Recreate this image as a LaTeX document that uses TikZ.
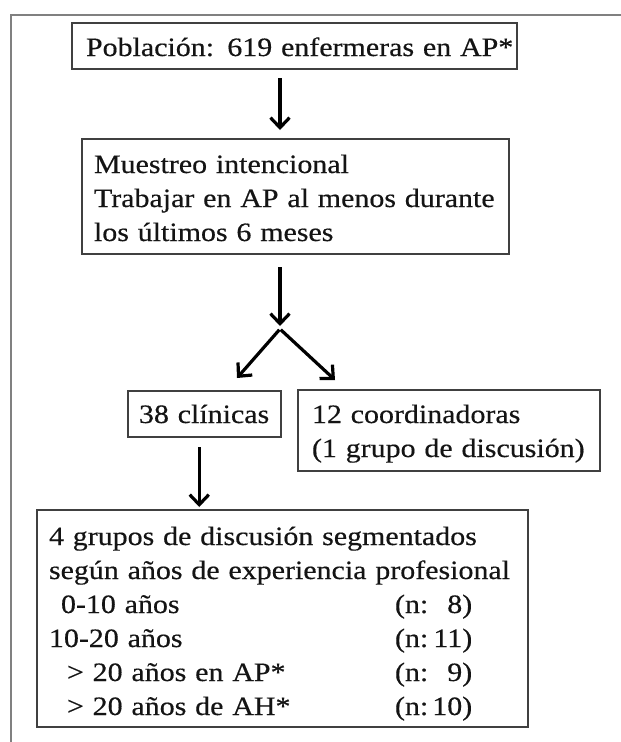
\documentclass[tikz,border=0pt]{standalone}
\usepackage{fontspec}
\setmainfont[FakeStretch=1.13,FakeBold=0.45,WordSpace=0.75]{Liberation Serif}
\usetikzlibrary{arrows.meta}
\newcommand{\nnum}[1]{(n:\makebox[34pt][r]{#1})}
\begin{document}
\begin{tikzpicture}[x=1pt,y=-1pt,
  box/.style={draw=black!75, line width=2pt, rectangle, anchor=north west,
    outer sep=0pt, inner ysep=0pt, align=left,
    font=\fontsize{26.5}{34}\selectfont, text=black!92},
  arr/.style={draw=black, line width=3.2pt, -{Straight Barb[length=10pt,width=19pt]}},
]
\useasboundingbox (0,0) rectangle (621,742);
\draw[black!50, line width=2pt] (10.5,742) -- (10.5,15) -- (621,15);

\node[box, inner xsep=14pt, text width=417pt, text height=33pt, text depth=13pt]
  (b1) at (72,23) {\mbox{Población: 619 enfermeras en AP*}};
\node[box, inner xsep=12pt, text width=403pt, text height=34pt, text depth=81pt]
  (b2) at (82,139) {\mbox{Muestreo intencional}\\\mbox{Trabajar en AP al menos durante}\\\mbox{los últimos 6 meses}};
\node[box, inner xsep=11.5pt, text width=130.5pt, text height=32pt, text depth=14pt]
  (clin) at (127.5,391) {\mbox{38 clínicas}};
\node[box, inner xsep=14.5pt, text width=273.5pt, text height=33pt, text depth=48pt]
  (coord) at (297.5,390) {\mbox{12 coordinadoras}\\\mbox{(1 grupo de discusión)}};
\node[box, inner xsep=12pt, text width=467pt, text height=35pt, text depth=182pt]
  (b4) at (37,510) {\mbox{4 grupos de discusión segmentados}\\
  \mbox{según años de experiencia profesional}\\
  \makebox[346pt][l]{\hspace*{12pt}0-10 años}\nnum{8}\\
  \makebox[346pt][l]{10-20 años}\nnum{11}\\
  \makebox[346pt][l]{\hspace*{18pt}> 20 años en AP*}\nnum{9}\\
  \makebox[346pt][l]{\hspace*{18pt}> 20 años de AH*}\nnum{10}};

\coordinate (sp) at (280,329);
\coordinate (lt) at (237,378);
\coordinate (rt) at (335,380);

\draw[arr, shorten <=9pt, shorten >=9pt] (b1.south -| sp) -- (b2.north -| sp);
\draw[arr, shorten <=13pt, shorten >=3pt] (b2.south -| sp) -- (sp);
\draw[arr, shorten <=1pt] (sp) -- (lt);
\draw[arr, shorten <=1pt] (sp) -- (rt);
\draw[arr, shorten <=10pt, shorten >=3pt] ([xshift=-5pt]clin.south) -- ([xshift=-5pt]clin.south |- b4.north);
\end{tikzpicture}
\end{document}
